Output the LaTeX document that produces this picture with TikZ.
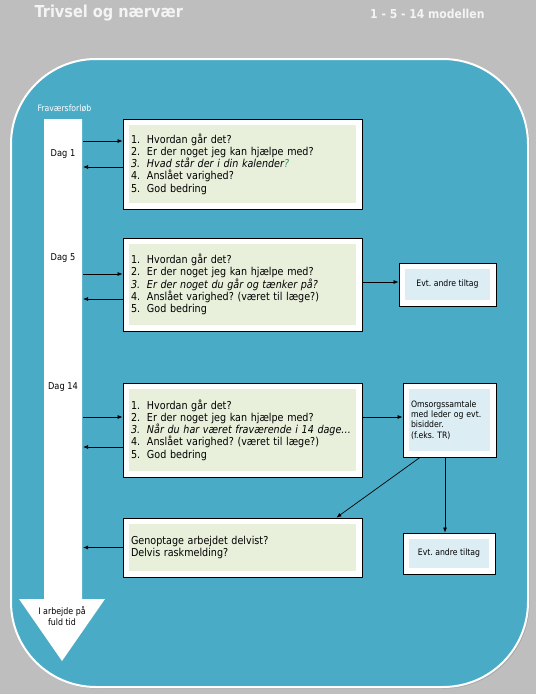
\documentclass[tikz,border=0pt]{standalone}
\usepackage{fontspec}
\setmainfont{DejaVu Sans}[FakeStretch=0.88]
\usetikzlibrary{arrows.meta, positioning}
\frenchspacing

\definecolor{bggray}{HTML}{BEBEBE}
\definecolor{panelblue}{HTML}{4AABC6}
\definecolor{boxgreen}{HTML}{E8F0DC}
\definecolor{boxblue}{HTML}{DCEEF4}
\definecolor{qmark}{HTML}{3A8C6E}
\definecolor{titlewhite}{HTML}{F4F4F4}

\newcommand{\itm}[1]{\makebox[16pt][l]{#1}}

\tikzset{
  qbox/.style={draw=black, line width=0.8pt, fill=white, minimum width=239pt,
    text width=223pt, inner xsep=8pt, align=left,
    font=\fontsize{10.9}{12.3}\selectfont,
    path picture={\fill[boxgreen]
      ([shift={(6pt,-6pt)}]path picture bounding box.north west) rectangle
      ([shift={(-6pt,6pt)}]path picture bounding box.south east);}},
  sidebox/.style={draw=black, line width=0.8pt, fill=white, align=left,
    font=\fontsize{8.8}{10.4}\selectfont,
    path picture={\fill[boxblue]
      ([shift={(6pt,-6pt)}]path picture bounding box.north west) rectangle
      ([shift={(-6pt,6pt)}]path picture bounding box.south east);}},
  daglabel/.style={font=\fontsize{9.4}{11}\selectfont, inner sep=0pt},
  conn/.style={-{Latex[length=5pt,width=4pt]}, line width=0.7pt},
}

\begin{document}
\begin{tikzpicture}[x=1pt, y=-1pt]
    \useasboundingbox (0,0) rectangle (536,694);
    \fill[bggray] (0,0) rectangle (536,694);
    % Title
    \node[anchor=west, text=titlewhite, font=\fontsize{16.5}{19}\bfseries] (title) at (31,13.5) {Trivsel og nærvær};
    \node[anchor=east, text=titlewhite, font=\fontsize{12.3}{14}\bfseries] (model) at (488,14) {1 - 5 - 14 modellen};
    % Panel with shadow
    \fill[black!45, opacity=0.45, rounded corners=85pt] (12.5,60.5) rectangle (529.5,688.5);
    \draw[white, line width=2pt, fill=panelblue, rounded corners=85pt] (11,59) rectangle (528,687);
    \node[anchor=west, text=white, font=\fontsize{8.8}{10}\selectfont] (forloeb) at (34,108) {Fraværsforløb};
    % Time line arrow
    \fill[white] (44,119) -- (82,119) -- (82,599) -- (105,599) -- (62,661)
        -- (19,599) -- (44,599) -- cycle;
    \node[align=center, font=\fontsize{9}{11}\selectfont, inner sep=0pt] (fuldtid) at (62,616) {I arbejde på\\fuld tid};
    \node[daglabel] (dag1) at (63,154) {Dag 1};
    \node[daglabel] (dag5) at (63,258) {Dag 5};
    \node[daglabel] (dag14) at (63,387) {Dag 14};
    % Day boxes
    \node[qbox, minimum height=90pt] (box1) at (242.5,164) {%
        \itm{1.}Hvordan går det?\\
        \itm{2.}Er der noget jeg kan hjælpe med?\\
        {\itshape\itm{3.}Hvad står der i din kalender{\color{qmark}?}}\\
        \itm{4.}Anslået varighed?\\
        \itm{5.}God bedring};
    \node[qbox, minimum height=93pt] (box2) at (242.5,284.5) {%
        \itm{1.}Hvordan går det?\\
        \itm{2.}Er der noget jeg kan hjælpe med?\\
        {\itshape\itm{3.}Er der noget du går og tænker på?}\\
        \itm{4.}Anslået varighed? (været til læge?)\\
        \itm{5.}God bedring};
    \node[qbox, minimum height=94pt] (box3) at (242.5,430) {%
        \itm{1.}Hvordan går det?\\
        \itm{2.}Er der noget jeg kan hjælpe med?\\
        {\itshape\itm{3.}Når du har været fraværende i 14 dage\dots}\\
        \itm{4.}Anslået varighed? (været til læge?)\\
        \itm{5.}God bedring};
    \node[qbox, minimum height=59pt] (box4) at (242.5,547.5) {%
        Genoptage arbejdet delvist?\\
        Delvis raskmelding?};
    % Side boxes
    \node[sidebox, minimum width=97pt, minimum height=43pt, align=center] (evt1) at (447.5,284.5) {Evt. andre tiltag};
    \node[sidebox, text width=77pt, inner xsep=8pt, minimum height=74pt] (omsorg) at (449.5,420) {%
        Omsorgssamtale\\med leder og evt.\\bisidder.\\(f.eks. TR)};
    \node[sidebox, minimum width=92pt, minimum height=41pt, align=center] (evt2) at (449,553.5) {Evt. andre tiltag};
    % Arrows between time line and boxes
    \coordinate (d1out) at (83,141);
    \coordinate (d1in) at (83,167);
    \coordinate (d5out) at (83,274);
    \coordinate (d5in) at (83,299);
    \coordinate (d14out) at (83,417);
    \coordinate (d14in) at (83,447);
    \coordinate (d4in) at (83,547.5);
    \draw[conn] (d1out) -- (d1out -| box1.west);
    \draw[conn] (d1in -| box1.west) -- (d1in);
    \draw[conn] (d5out) -- (d5out -| box2.west);
    \draw[conn] (d5in -| box2.west) -- (d5in);
    \draw[conn] (d14out) -- (d14out -| box3.west);
    \draw[conn] (d14in -| box3.west) -- (d14in);
    \draw[conn] (box4.west) -- (d4in);
    % Arrows to the side boxes
    \draw[conn] ([yshift=2.5pt]box2.east) -- ([yshift=2.5pt]evt1.west);
    \draw[conn] ([yshift=13pt]box3.east) -- ([yshift=13pt]box3.east -| omsorg.west);
    \draw[conn] ([xshift=-29.5pt]omsorg.south) -- ([xshift=-26pt]box4.north east);
    \draw[conn] ([xshift=-4.5pt]omsorg.south) -- ([xshift=-4.5pt]omsorg.south |- evt2.north);
\end{tikzpicture}
\end{document}
